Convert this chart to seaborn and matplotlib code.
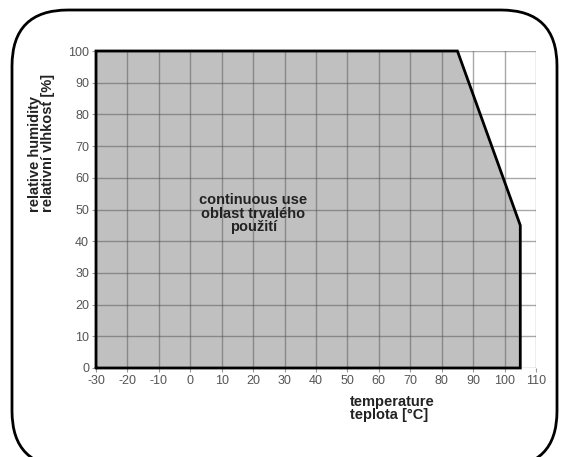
import matplotlib
matplotlib.use("Agg")
import matplotlib.pyplot as plt
import matplotlib.patches as mpatches
from matplotlib.transforms import Affine2D
import seaborn as sns
import pandas as pd

# boundary of the continuous-use region
temp = [-30, -30, 85, 105, 105, -30]
rh = [0, 100, 100, 45, 0, 0]
xticks = [-30, -20, -10, 0, 10, 20, 30, 40, 50, 60, 70, 80, 90, 100, 110]
yticks = [0, 10, 20, 30, 40, 50, 60, 70, 80, 90, 100]
region_label = "continuous use\noblast trvalého\npoužití"
xlabel = "temperature\nteplota [°C]"
ylabel = "relative humidity\nrelativní vlhkost [%]"

sns.set_theme(style="white")
plt.rcParams['font.family'] = ['Liberation Sans', 'DejaVu Sans']
plt.rcParams['axes.unicode_minus'] = False

W, H = 570, 457
fig = plt.figure(figsize=(W / 100, H / 100), dpi=100)
ax = fig.add_axes([96 / W, 1 - 368 / H, (536 - 96) / W, (368 - 51) / H])

df = pd.DataFrame({"temp": temp, "rh": rh})
ax.fill(df["temp"], df["rh"], color="#c0c0c0", zorder=1, lw=0)
ax.set_xlim(-30, 110)
ax.set_ylim(0, 100)
ax.set_xticks(xticks)
ax.set_yticks(yticks)
for x in xticks:
    ax.axvline(x, color="#525252", alpha=0.5, lw=1, zorder=2)
for y in yticks:
    ax.axhline(y, color="#525252", alpha=0.5, lw=1, zorder=2)
sns.lineplot(data=df, x="temp", y="rh", sort=False, estimator=None,
             color="black", lw=2, ax=ax, zorder=3)
ax.lines[-1].set_clip_on(False)
ax.lines[-1].set_solid_joinstyle("miter")

for s in ax.spines.values():
    s.set_visible(False)
ax.tick_params(axis="both", which="both", length=3, width=0.8, color="#999999",
               labelcolor="#555555", labelsize=9, pad=2,
               bottom=True, left=True)
ax.set_xlabel("")
ax.set_ylabel("")

ax.text(20, 48.6, region_label, ha="center", va="center", fontsize=10.5,
        fontweight="bold", color="#222222", linespacing=0.95, zorder=4)

fig.text(350 / W, 1 - 395 / H, xlabel, ha="left", va="top", fontsize=10.5,
         fontweight="bold", color="#222222", linespacing=0.95, multialignment="left")
fig.text(55 / W, 1 - 212 / H, ylabel, ha="left", va="bottom", rotation=90,
         fontsize=10.5, fontweight="bold", color="#222222", linespacing=0.95,
         multialignment="left", rotation_mode="anchor")

# rounded frame in pixel coordinates
pix = Affine2D().scale(1 / W, 1 / H) + fig.transFigure
frame = mpatches.FancyBboxPatch((12, -10), 545, 457,
                                boxstyle="round,pad=0,rounding_size=56",
                                fill=False, ec="black", lw=2, transform=pix,
                                clip_on=False)
fig.patches.append(frame)

fig.savefig("out.png", dpi=100)
